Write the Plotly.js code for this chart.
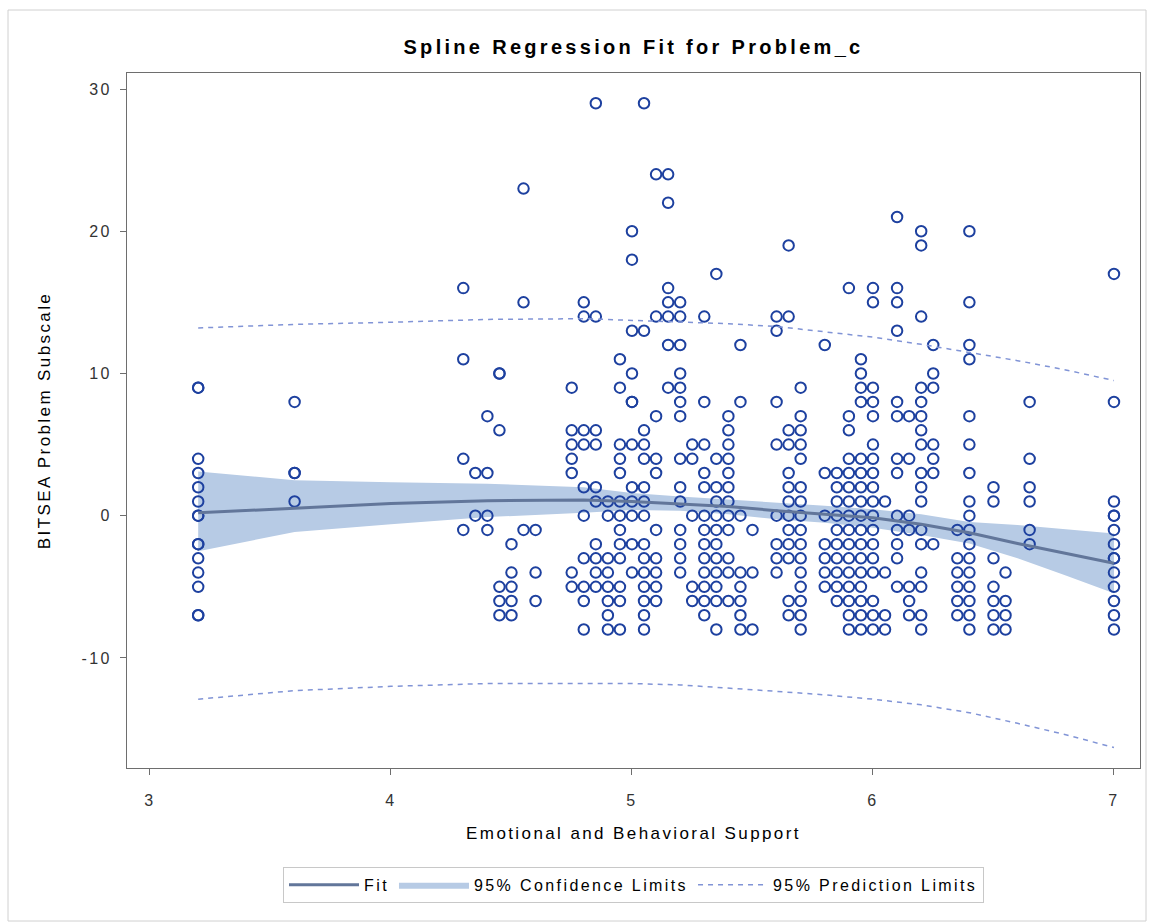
<!DOCTYPE html>
<html>
<head>
<meta charset="utf-8">
<script src="https://cdn.plot.ly/plotly-3.0.1.min.js"></script>
<style>
  html, body { margin: 0; padding: 0; background: #ffffff; }
  #chart { width: 1149px; height: 924px; }
  svg text { letter-spacing: 2.4px; }
  svg text.gtitle { letter-spacing: 3.3px; }
</style>
</head>
<body>
<div id="chart"></div>
<script>
// ---- Observed data: x columns and the y values at each column ----
const colX = [3.2, 3.6, 4.3, 4.35, 4.4, 4.45, 4.5, 4.55, 4.6, 4.75, 4.8, 4.85, 4.9, 4.95,
  5.0, 5.05, 5.1, 5.15, 5.2, 5.25, 5.3, 5.35, 5.4, 5.45, 5.5, 5.6, 5.65, 5.7, 5.8, 5.85,
  5.9, 5.95, 6.0, 6.05, 6.1, 6.15, 6.2, 6.25, 6.35, 6.4, 6.5, 6.55, 6.65, 7.0];
const colY = [
  [9, 9, 4, 3, 2, 1, 0, 0, -2, -2, -3, -4, -5, -7, -7],
  [8, 3, 3, 1],
  [16, 11, 4, -1],
  [3, 0],
  [7, 3, 0, -1],
  [10, 10, 6, -5, -6, -7],
  [-2, -4, -5, -6, -7],
  [23, 15, -1],
  [-1, -4, -6],
  [9, 6, 5, 4, 3, -4, -5],
  [15, 14, 6, 5, 2, 0, -3, -5, -6, -8],
  [29, 14, 6, 5, 2, 1, -2, -3, -4, -5],
  [1, 0, -3, -4, -5, -6, -7, -8],
  [11, 9, 5, 4, 3, 1, 0, -1, -2, -3, -5, -6, -8],
  [20, 18, 13, 10, 8, 8, 5, 2, 1, 0, -2, -4],
  [29, 13, 6, 5, 4, 2, 1, 0, -2, -3, -4, -5, -6, -7, -8],
  [24, 14, 7, 4, 3, -1, -3, -4, -5, -6],
  [24, 22, 16, 15, 14, 12, 9],
  [15, 14, 12, 10, 9, 8, 7, 4, 2, 1, -1, -2, -3, -4],
  [5, 4, 0, -5, -6],
  [14, 8, 5, 3, 2, 0, -1, -2, -3, -4, -5, -6, -7],
  [17, 4, 2, 1, 0, -1, -2, -3, -4, -5, -6, -8],
  [7, 6, 5, 4, 3, 2, 1, 0, -1, -3, -4, -6],
  [12, 8, 0, -4, -5, -6, -7, -8],
  [-1, -4, -8],
  [14, 13, 8, 5, 0, -2, -3, -4],
  [19, 14, 6, 5, 3, 2, 1, 0, -1, -2, -3, -6, -7],
  [9, 7, 6, 5, 4, 2, 1, 0, -1, -2, -3, -4, -5, -6, -7, -8],
  [12, 3, 0, -2, -3, -4, -5],
  [3, 2, 1, 0, -1, -2, -3, -4, -5, -6],
  [16, 7, 6, 4, 3, 2, 1, 0, -1, -2, -3, -4, -5, -6, -7, -8],
  [11, 10, 9, 8, 4, 3, 2, 1, 0, -1, -2, -3, -4, -5, -6, -7, -8],
  [16, 15, 9, 8, 7, 5, 4, 3, 2, 1, 0, -1, -2, -3, -4, -6, -7, -8],
  [1, -4, -7, -8],
  [21, 16, 15, 13, 8, 7, 4, 3, 0, -1, -2, -3, -5],
  [7, 4, 0, -1, -5, -6, -7],
  [20, 19, 14, 9, 8, 7, 6, 5, 3, 2, 1, -1, -2, -4, -5, -7, -8],
  [12, 10, 9, 5, 4, 3, -2],
  [-1, -3, -4, -5, -6, -7],
  [20, 15, 12, 11, 7, 5, 3, 1, 0, -1, -2, -3, -4, -5, -6, -7, -8],
  [2, 1, -3, -5, -6, -7, -8],
  [-4, -6, -7, -8],
  [8, 4, 2, 1, -1, -2],
  [17, 8, 1, 0, 0, -1, -2, -3, -3, -4, -5, -6, -7, -8]
];

// ---- Fitted spline, confidence and prediction limits ----
const fitX   = [3.2, 3.6, 4.0, 4.4, 4.8, 5.0, 5.2, 5.4, 5.6, 5.8, 6.0, 6.2, 6.4, 6.6, 6.8, 7.0];
const fitY   = [0.2, 0.55, 0.85, 1.05, 1.1, 1.0, 0.85, 0.65, 0.35, 0.1, -0.15, -0.6, -1.2, -1.95, -2.65, -3.35];
const clUpper = [3.1, 2.5, 2.35, 2.25, 2.0, 1.6, 1.35, 1.15, 0.95, 0.7, 0.45, 0.1, -0.45, -0.65, -0.95, -1.25];
const clLower = [-2.5, -1.15, -0.6, -0.1, 0.2, 0.4, 0.35, 0.1, -0.25, -0.5, -0.85, -1.35, -1.95, -3.0, -4.2, -5.45];
const plUpper = [13.2, 13.45, 13.6, 13.8, 13.85, 13.75, 13.65, 13.5, 13.3, 12.95, 12.55, 12.05, 11.5, 10.9, 10.25, 9.5];
const plLower = [-12.9, -12.3, -12.0, -11.8, -11.8, -11.8, -11.9, -12.1, -12.35, -12.6, -12.9, -13.3, -13.85, -14.6, -15.4, -16.3];

const xTicks = [3, 4, 5, 6, 7];
const yTicks = [-10, 0, 10, 20, 30];

// flatten the observations
const obsX = [], obsY = [];
colX.forEach((x, i) => colY[i].forEach(y => { obsX.push(x); obsY.push(y); }));

const fontFam = '"Liberation Sans", Arial, sans-serif';
const bandColor = '#b7cbe5';
const fitColor = '#62769a';
const plColor = '#8194d6';
const ptColor = '#1d409f';

const traces = [
  { x: fitX, y: clLower, mode: 'lines', line: { width: 0, color: bandColor },
    showlegend: false, hoverinfo: 'skip' },
  { x: fitX, y: clUpper, mode: 'lines', fill: 'tonexty', fillcolor: bandColor,
    line: { width: 0, color: bandColor }, name: '95% Confidence Limits', legendrank: 2 },
  { x: obsX, y: obsY, mode: 'markers', showlegend: false,
    marker: { symbol: 'circle-open', size: 10.5, color: ptColor, line: { width: 2, color: ptColor } } },
  { x: fitX, y: fitY, mode: 'lines', name: 'Fit', legendrank: 1,
    line: { color: fitColor, width: 3 } },
  { x: fitX, y: plUpper, mode: 'lines', name: '95% Prediction Limits', legendrank: 3,
    line: { color: plColor, width: 1.5, dash: '5px,5px' } },
  { x: fitX, y: plLower, mode: 'lines', showlegend: false,
    line: { color: plColor, width: 1.5, dash: '5px,5px' } }
];

const axisCommon = {
  showline: true, linecolor: '#6e6e6e', linewidth: 1, mirror: true,
  ticks: 'outside', ticklen: 6, tickcolor: '#6e6e6e', tickwidth: 1,
  showgrid: false, zeroline: false,
  tickfont: { family: fontFam, size: 16, color: '#333333' }
};

const layout = {
  width: 1149, height: 924,
  margin: { l: 127, r: 9, t: 73, b: 156 },
  paper_bgcolor: '#ffffff', plot_bgcolor: '#ffffff',
  title: { text: '<b>Spline Regression Fit for Problem_c</b>',
    font: { family: fontFam, size: 20, color: '#000000' },
    x: 0.5, xref: 'paper', xanchor: 'center', y: 1 - 47 / 924, yanchor: 'middle' },
  xaxis: Object.assign({}, axisCommon, {
    range: [2.9046, 7.108], tickvals: xTicks, ticktext: xTicks.map(String),
    ticklabelstandoff: 12,
    title: { text: 'Emotional and Behavioral Support', standoff: 18,
      font: { family: fontFam, size: 17, color: '#000000' } }
  }),
  yaxis: Object.assign({}, axisCommon, {
    range: [-17.74, 31.125], tickvals: yTicks, ticktext: yTicks.map(String),
    ticklabelstandoff: 5,
    title: { text: 'BITSEA Problem Subscale', standoff: 26,
      font: { family: fontFam, size: 17, color: '#000000' } }
  }),
  showlegend: true,
  legend: {
    orientation: 'h', x: 0.5, xanchor: 'center', y: -0.1424, yanchor: 'top',
    bordercolor: '#c8c8c8', borderwidth: 1, bgcolor: '#ffffff',
    font: { family: fontFam, size: 16, color: '#000000' },
    itemwidth: 70, traceorder: 'normal'
  },
  shapes: [
    { type: 'rect', xref: 'paper', yref: 'paper',
      x0: (8 - 127) / 1013, x1: (1146 - 127) / 1013,
      y0: (768 - 921) / 695, y1: (768 - 10) / 695,
      line: { color: '#d0d0d0', width: 1 }, fillcolor: 'rgba(0,0,0,0)', layer: 'below' }
  ]
};

Plotly.newPlot('chart', traces, layout, { displayModeBar: false, staticPlot: true });
</script>
</body>
</html>
